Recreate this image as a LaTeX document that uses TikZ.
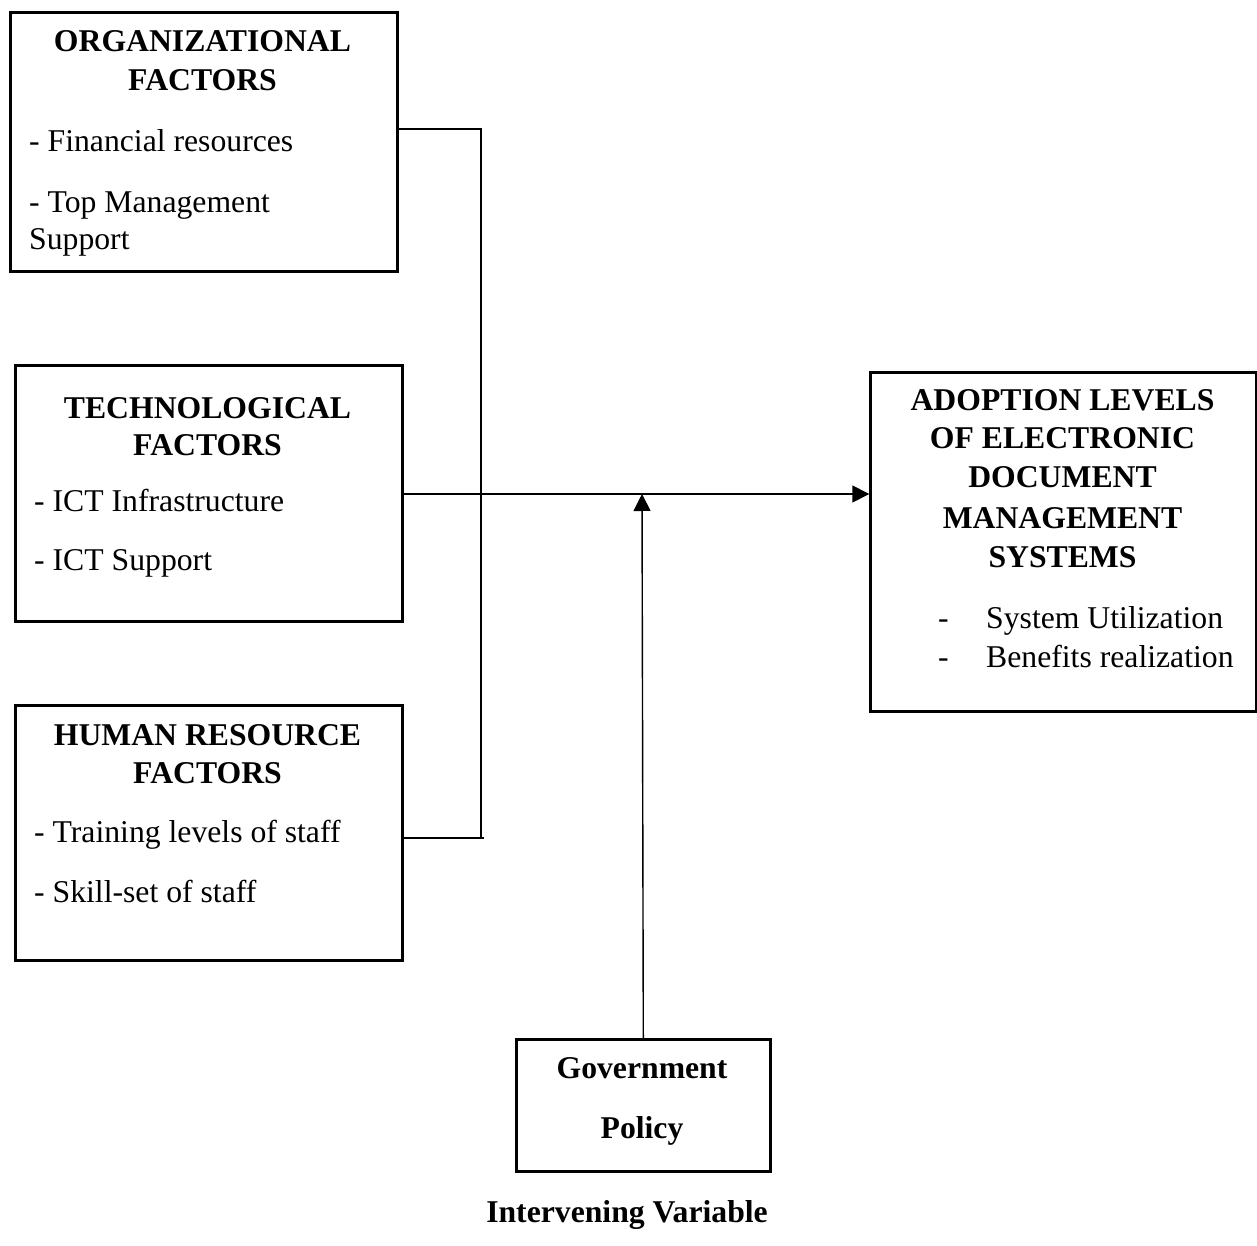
\documentclass[tikz,border=0pt]{standalone}
\usepackage{fontspec}
\setmainfont{Liberation Serif}
\usetikzlibrary{arrows.meta}
\begin{document}
\begin{tikzpicture}[x=1pt,y=-1pt,
  box/.style={draw, line width=2.6pt, rectangle, inner sep=0pt, anchor=north west},
  conn/.style={line width=1.4pt},
  head/.style={font=\fontsize{31.7}{38}\selectfont\bfseries, anchor=base, inner sep=0pt},
  item/.style={font=\fontsize{31.7}{38}\selectfont, anchor=base west, inner sep=0pt},
  tip/.style={-{Triangle[length=17pt,width=17pt]}}]
\useasboundingbox (0,0) rectangle (1257,1246);
% boxes
\node[box, minimum width=387pt, minimum height=259pt] (org) at (9.3,11.3) {};
\node[box, minimum width=387pt, minimum height=256pt] (tech) at (14.3,364.3) {};
\node[box, minimum width=387pt, minimum height=255pt] (hr) at (14.3,704.3) {};
\node[box, minimum width=386pt, minimum height=339pt] (adopt) at (869.3,371.3) {};
\node[box, minimum width=254pt, minimum height=132pt] (gov) at (515,1038.3) {};
% organizational
\node[head] (o1) at (202.5,52) {ORGANIZATIONAL};
\node[head] (o2) at (202.5,91) {FACTORS};
\node[item] (o3) at (29,152) {- Financial resources};
\node[item] (o4) at (29,213) {- Top Management};
\node[item] (o5) at (29,250) {Support};
% technological
\node[head] (t1) at (207.5,418) {TECHNOLOGICAL};
\node[head] (t2) at (207.5,455) {FACTORS};
\node[item] (t3) at (34,511) {- ICT Infrastructure};
\node[item] (t4) at (34,570) {- ICT Support};
% human resource
\node[head] (h1) at (207.5,745) {HUMAN RESOURCE};
\node[head] (h2) at (207.5,783) {FACTORS};
\node[item] (h3) at (34,842) {- Training levels of staff};
\node[item] (h4) at (34,902) {- Skill-set of staff};
% adoption
\node[head] (a1) at (1062.5,410) {ADOPTION LEVELS};
\node[head] (a2) at (1062.5,448) {OF ELECTRONIC};
\node[head] (a3) at (1062.5,487) {DOCUMENT};
\node[head] (a4) at (1062.5,528) {MANAGEMENT};
\node[head] (a5) at (1062.5,567) {SYSTEMS};
\node[item] (a6) at (938,628) {-};
\node[item] (a7) at (986,628) {System Utilization};
\node[item] (a8) at (938,667) {-};
\node[item] (a9) at (986,667) {Benefits realization};
% government
\node[head] (g1) at (642,1078) {Government};
\node[head] (g2) at (642,1138) {Policy};
\node[head] (iv) at (627,1222) {Intervening Variable};
% connectors
\coordinate (oj) at (481,129);
\coordinate (hj) at (484,838);
\coordinate (tj) at (642,494);
\draw[conn] (org.east |- oj) -- (oj) -- (oj |- hj);
\draw[conn] (hr.east |- hj) -- (hj);
\draw[conn, tip] (tech.east |- tj) -- (adopt.west |- tj);
\draw[conn, tip] (gov.north) -- (tj);
\end{tikzpicture}
\end{document}
